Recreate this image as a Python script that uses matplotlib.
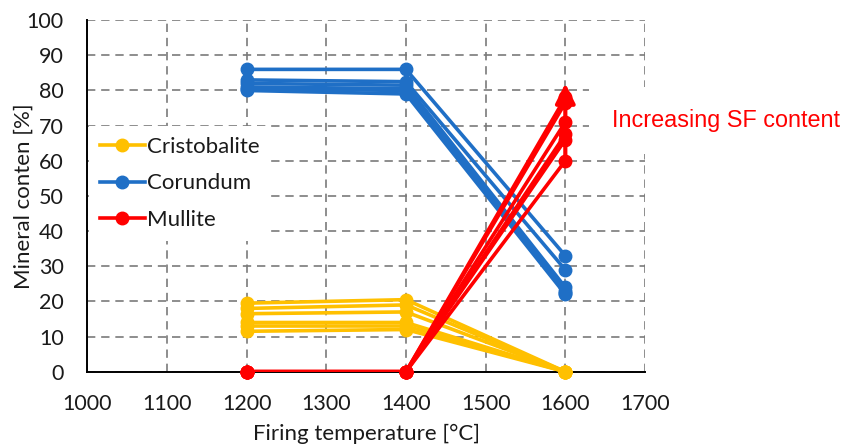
import matplotlib
matplotlib.use("Agg")
import matplotlib.pyplot as plt
from matplotlib.lines import Line2D

# firing temperatures [degC]
temps = [1200, 1400, 1600]

# mineral content [%], one row per SF content level
cristobalite_1200 = [19.5, 18, 16.5, 14, 13, 11.5]
cristobalite_1400 = [20.5, 19, 17, 14, 13, 12]
cristobalite_1600 = [0, 0, 0, 0, 0, 0]

corundum_1200 = [86, 83, 82, 81, 80.5, 80]
corundum_1400 = [86, 82.5, 81.5, 80.5, 80, 79]
corundum_1600 = [33, 29, 24, 23, 22.5, 22]

mullite_1200 = [0, 0, 0, 0, 0, 0]
mullite_1400 = [0, 0, 0, 0, 0, 0]
mullite_1600 = [60, 66, 67.5, 71, 76.5, 78]

arrow_from = 60
arrow_to = 82

labels = ["Cristobalite", "Corundum", "Mullite"]
colors = ["#FFC000", "#1F6FC6", "#FF0000"]

plt.rcParams["font.family"] = ["Lato", "DejaVu Sans"]
TXT = "#1a1a1a"
LW = 2.6
MS = 9

fig = plt.figure(figsize=(8.45, 4.45), dpi=100)
ax = fig.add_axes([0.1033, 0.1647, 0.660, 0.790])

series = [
    (cristobalite_1200, cristobalite_1400, cristobalite_1600),
    (corundum_1200, corundum_1400, corundum_1600),
    (mullite_1200, mullite_1400, mullite_1600),
]
for (a, b, c), color in zip(series, colors):
    for i in range(len(a)):
        ys = [a[i], b[i], c[i]]
        # line clipped at the axis like the original, dots drawn whole
        ax.plot(temps, ys, color=color, lw=LW, zorder=3)
        ax.plot(temps, ys, color=color, lw=0, marker="o", ms=MS,
                clip_on=False, zorder=3)

ax.annotate("", xy=(1600, arrow_to), xytext=(1600, arrow_from),
            arrowprops=dict(arrowstyle="-|>,head_width=0.6,head_length=1.2",
                            color="#FF0000", lw=3, shrinkA=0, shrinkB=0),
            zorder=4)

ax.set_xlim(1000, 1700)
ax.set_ylim(0, 100)
ax.set_xticks(range(1000, 1701, 100))
ax.set_yticks(range(0, 101, 10))
ax.grid(True, color="#7a7a7a", linestyle=(0, (5, 3.5)), lw=1.2, zorder=0)
ax.set_axisbelow(True)
for side in ["top", "right"]:
    ax.spines[side].set_visible(False)
for side in ["left", "bottom"]:
    ax.spines[side].set_linewidth(1.4)
    ax.spines[side].set_zorder(2)
ax.tick_params(length=0, labelsize=15.5, colors=TXT)
ax.tick_params(axis="x", pad=16)
ax.tick_params(axis="y", pad=17)

ax.set_xlabel("Firing temperature [°C]", fontsize=16, color=TXT)
ax.set_ylabel("Mineral conten [%]", fontsize=16, color=TXT)
ax.xaxis.set_label_coords(0.5, -0.148)
ax.yaxis.set_label_coords(-0.097, 0.5)

handles = [Line2D([0], [0], color=c, lw=LW, marker="o", ms=MS) for c in colors]
leg = ax.legend(handles, labels, loc="upper left", bbox_to_anchor=(0.003, 0.70),
                fontsize=16, frameon=True, framealpha=1, edgecolor="none",
                handlelength=2.0, handletextpad=0.1, labelspacing=0.75,
                borderaxespad=0, borderpad=0.5, fancybox=False)
leg.set_zorder(5)
for t in leg.get_texts():
    t.set_color(TXT)

ax.text(1658, 71.5, "Increasing SF content", color="#FF0000", fontsize=16.8,
        family=["Liberation Sans", "DejaVu Sans"], ha="left", va="center",
        clip_on=False, zorder=5,
        bbox=dict(facecolor="white", edgecolor="none", pad=16))

fig.savefig("out.png", dpi=100)
